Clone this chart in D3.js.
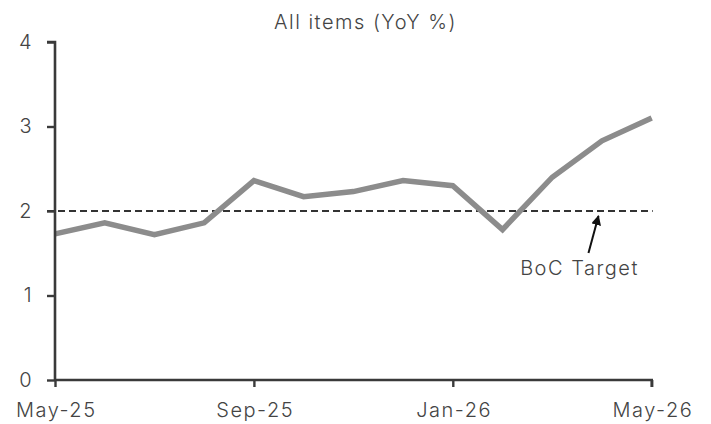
<!DOCTYPE html>
<html><head><meta charset="utf-8">
<script src="https://cdn.jsdelivr.net/npm/d3@7"></script>
<style>body{margin:0;background:#fff}svg{display:block}</style>
</head><body><svg id="c" width="711" height="424"></svg>
<script>
const months = ["May-25","Jun-25","Jul-25","Aug-25","Sep-25","Oct-25","Nov-25","Dec-25","Jan-26","Feb-26","Mar-26","Apr-26","May-26"];
const values = [1.73,1.86,1.72,1.86,2.36,2.17,2.23,2.36,2.30,1.78,2.40,2.83,3.10];
const xTickLabels = ["May-25","Sep-25","Jan-26","May-26"];
const yTicks = [0,1,2,3,4];
const target = 2;
const title = "All items (YoY %)";
const annotation = "BoC Target";

const W=711,H=424,m={l:55,r:59.3,t:42,b:44};
const svg=d3.select("#c");
const font="Inter, Lato, sans-serif";
const txt="#444", axc="#3a3a3a";
const x=d3.scalePoint().domain(months).range([m.l,W-m.r]);
const y=d3.scaleLinear().domain([0,4]).range([H-m.b,m.t]);

svg.append("text").attr("x",365.5).attr("y",29).attr("text-anchor","middle")
  .attr("font-family",font).attr("font-size",20).attr("letter-spacing",1.5).attr("fill",txt).attr("font-weight",300).text(title);

// target line
svg.append("line").attr("x1",m.l-8).attr("x2",W-m.r+1).attr("y1",y(target)).attr("y2",y(target))
  .attr("stroke","#333").attr("stroke-width",2).attr("stroke-dasharray","7,4");

// series
svg.append("path").datum(values).attr("fill","none").attr("stroke","#8c8c8c").attr("stroke-width",5.5)
  .attr("stroke-linejoin","miter").attr("d",d3.line().x((d,i)=>x(months[i])).y(d=>y(d)));

// axes
const ya=svg.append("g").attr("transform",`translate(${m.l},0)`)
  .call(d3.axisLeft(y).tickValues(yTicks).tickSize(8).tickPadding(14).tickFormat(d3.format("d")));
const xa=svg.append("g").attr("transform",`translate(0,${H-m.b})`)
  .call(d3.axisBottom(x).tickValues(xTickLabels).tickSize(7).tickPadding(16));
[ya,xa].forEach(g=>{
  g.select(".domain").attr("stroke",axc).attr("stroke-width",2.6);
  g.selectAll(".tick line").attr("stroke",axc).attr("stroke-width",2.4);
  g.selectAll("text").attr("font-family",font).attr("font-size",20).attr("letter-spacing",1.5).attr("fill",txt).attr("font-weight",300);
});
ya.select(".domain").attr("d",`M-8,${y(4)}H0V${y(0)}`);
xa.select(".domain").attr("d",`M${m.l},0H${W-m.r}V7`);
xa.selectAll(".tick text").attr("dx",0.75);

// annotation
const ax=x("Apr-26")-3.5, ay=y(target)+5;
svg.append("defs").append("marker").attr("id","ah").attr("viewBox","0 0 10 10").attr("refX",9).attr("refY",5)
  .attr("markerWidth",5).attr("markerHeight",5).attr("orient","auto")
  .append("path").attr("d","M0,0L10,5L0,10z").attr("fill","#111");
svg.append("line").attr("x1",ax-10).attr("y1",ay+37).attr("x2",ax).attr("y2",ay)
  .attr("stroke","#111").attr("stroke-width",2).attr("marker-end","url(#ah)");
svg.append("text").attr("x",579.5).attr("y",275).attr("text-anchor","middle")
  .attr("font-family",font).attr("font-size",20).attr("letter-spacing",1.5).attr("fill",txt).attr("font-weight",300).text(annotation);
</script></body></html>
